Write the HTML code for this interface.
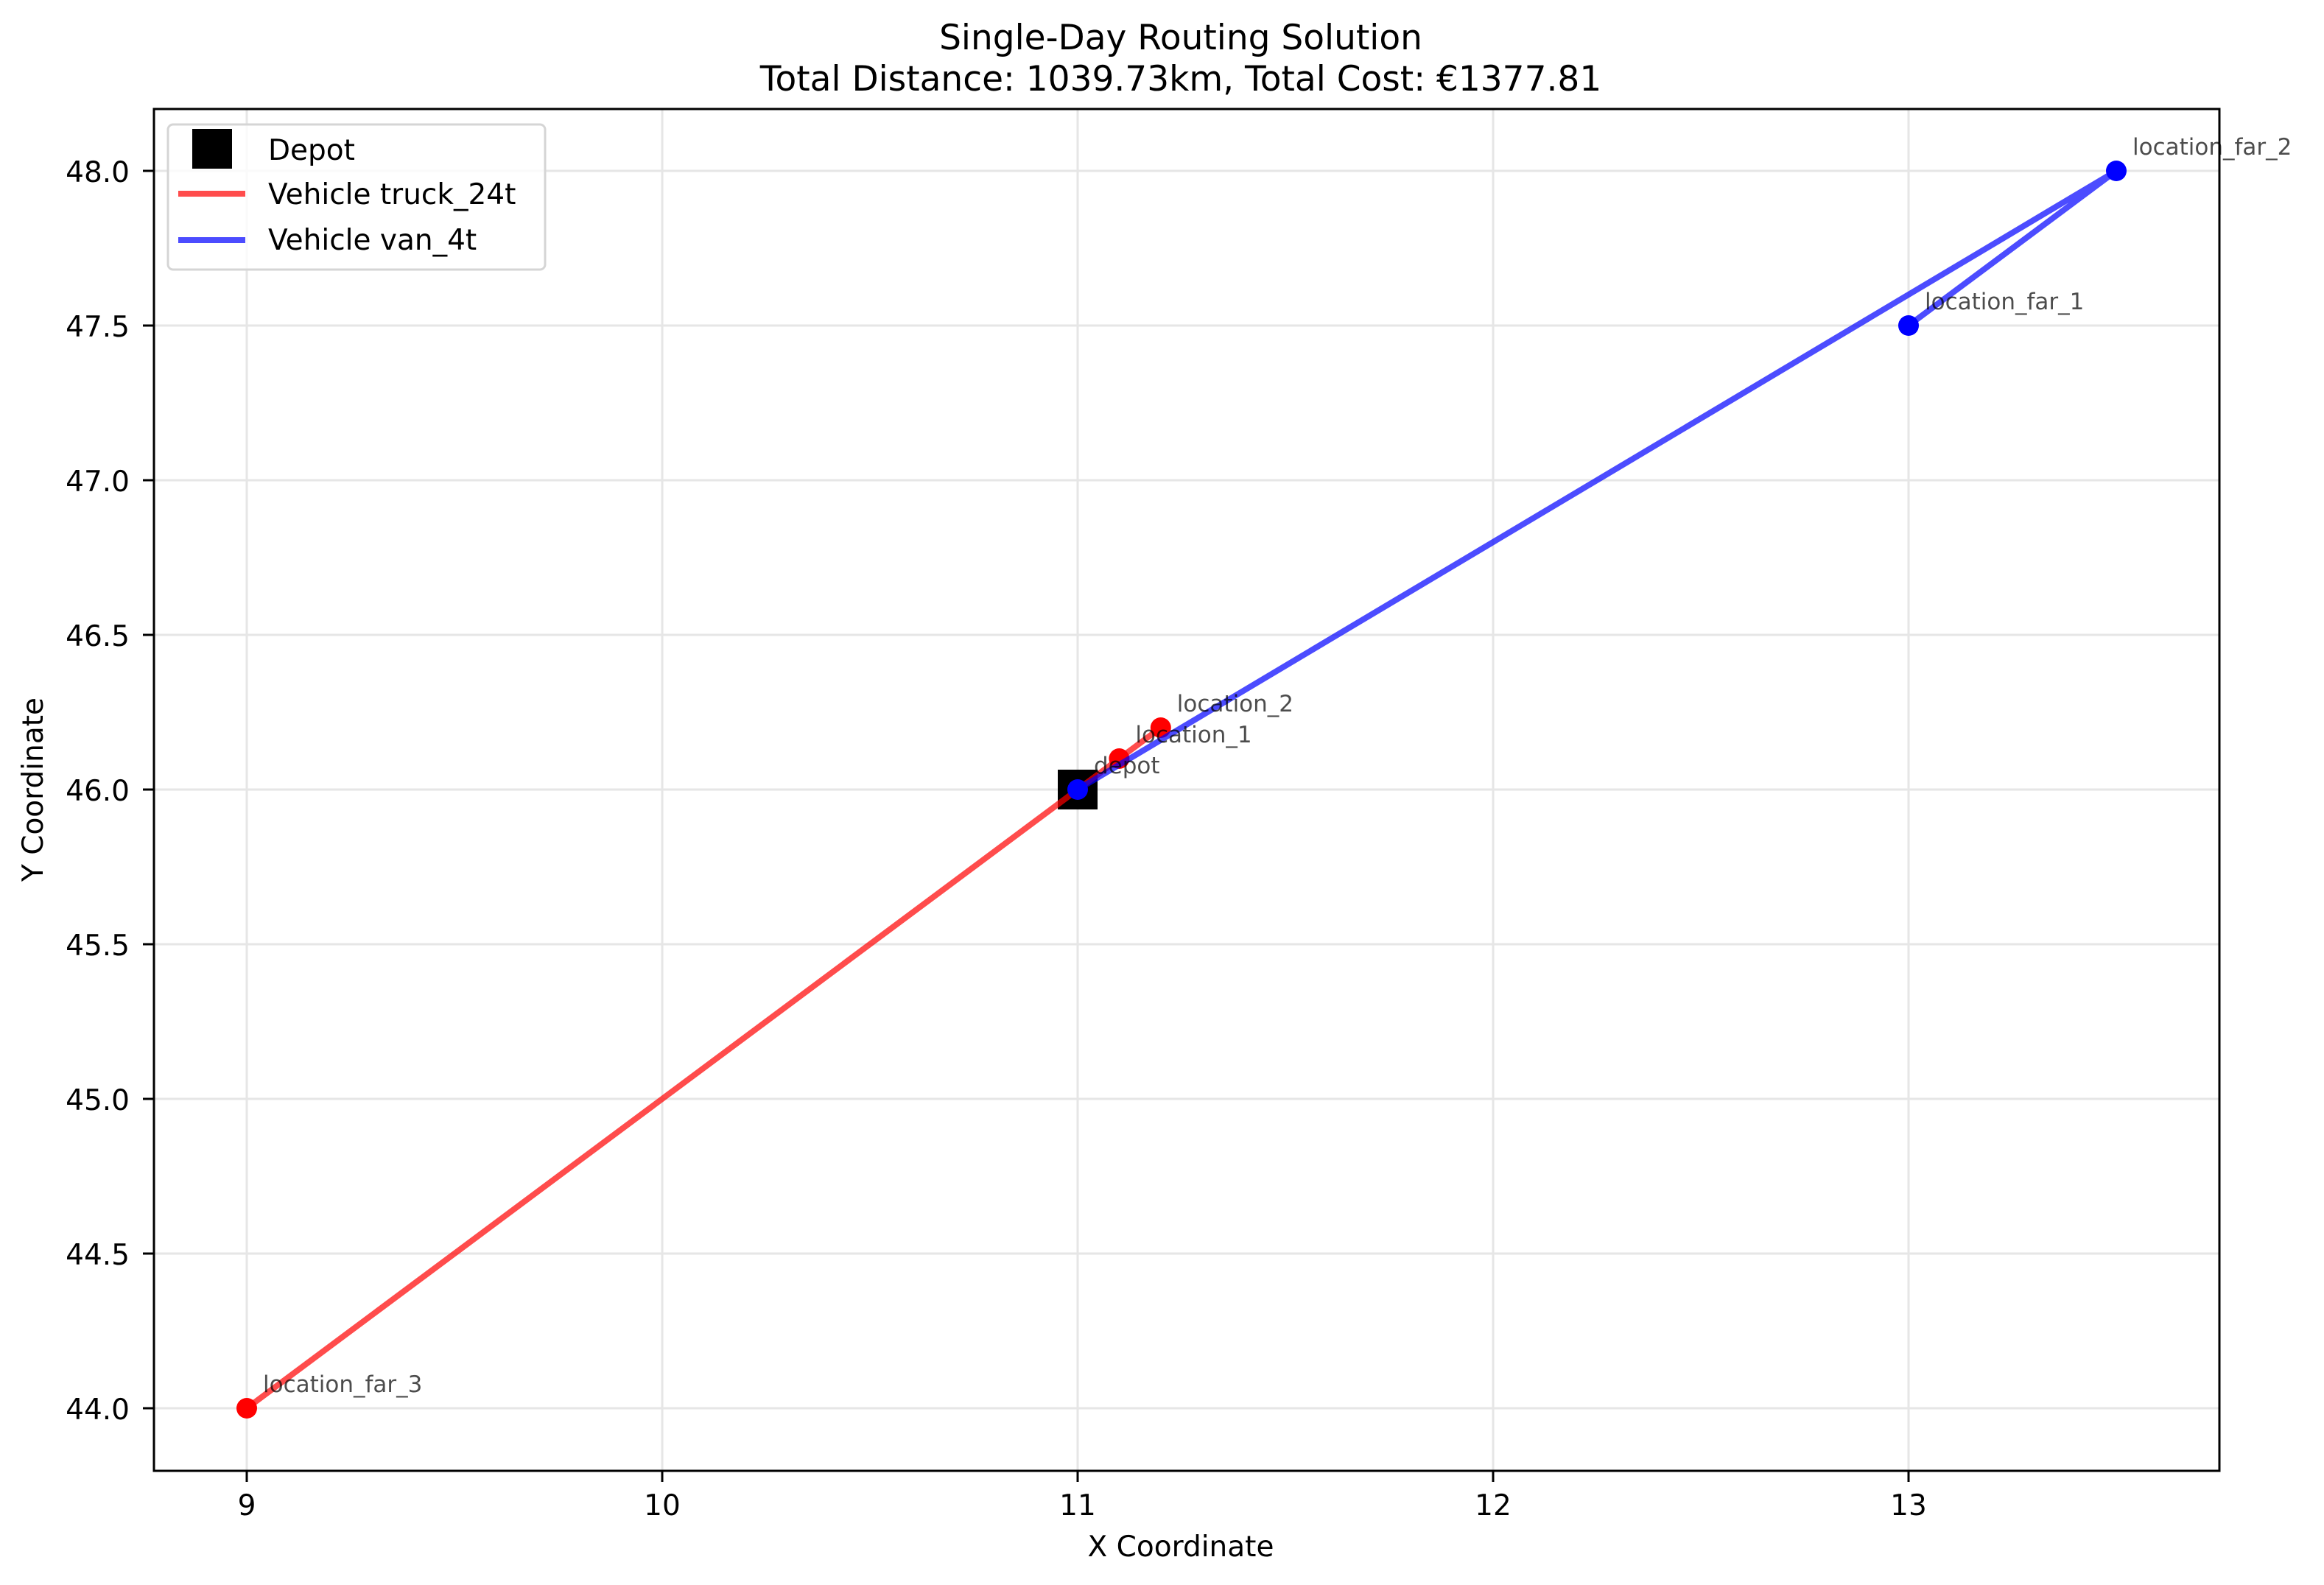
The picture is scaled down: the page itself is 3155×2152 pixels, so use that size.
<!DOCTYPE html>
<html><head><meta charset="utf-8"><style>
html,body{margin:0;padding:0;background:#fff;}
svg{display:block;font-family:"DejaVu Sans","Liberation Sans",sans-serif;}
</style></head><body>
<svg id="chart" width="3155" height="2152" viewBox="0 0 3155 2152" xmlns="http://www.w3.org/2000/svg">
<rect width="3155" height="2152" fill="#fff"/>
<text x="1603" y="67" font-size="47" text-anchor="middle">Single-Day Routing Solution</text>
<text x="1603" y="123" font-size="47" text-anchor="middle">Total Distance: 1039.73km, Total Cost: €1377.81</text>
<g id="grid"></g>
<g id="ticks"></g>
<g id="marks"></g>
<rect x="209" y="148" width="2804" height="1849" fill="none" stroke="#000" stroke-width="3"/>
<text x="1603" y="2113" font-size="39" text-anchor="middle">X Coordinate</text>
<text x="58" y="1072" font-size="39" text-anchor="middle" transform="rotate(-90 58 1072)">Y Coordinate</text>
<g>
<rect x="228" y="169" width="512" height="197" rx="7" fill="#fff" fill-opacity="0.8" stroke="#d5d5d5" stroke-width="3"/>
<rect x="261" y="175" width="54" height="54" fill="#000"/>
<text x="364" y="217" font-size="39">Depot</text>
<line x1="242" y1="263" x2="333" y2="263" stroke="#ff0000" stroke-opacity="0.7" stroke-width="8"/>
<text x="364" y="277" font-size="39">Vehicle truck_24t</text>
<line x1="242" y1="326" x2="333" y2="326" stroke="#0000ff" stroke-opacity="0.7" stroke-width="8"/>
<text x="364" y="339" font-size="39">Vehicle van_4t</text>
</g>
</svg>
<script>
const xTicks = [9, 10, 11, 12, 13];
const yTicks = [44.0, 44.5, 45.0, 45.5, 46.0, 46.5, 47.0, 47.5, 48.0];
const depot = [11, 46];
const truckX = [9, 11, 11.1, 11.2];
const truckY = [44, 46, 46.1, 46.2];
const vanX = [11, 13.5, 13];
const vanY = [46, 48, 47.5];
const pointNames = ['depot', 'location_1', 'location_2', 'location_far_3', 'location_far_1', 'location_far_2'];
const pointX = [11, 11.1, 11.2, 9, 13, 13.5];
const pointY = [46, 46.1, 46.2, 44, 47.5, 48];
const pointColor = ['blue', 'red', 'red', 'red', 'blue', 'blue'];

const NS = 'http://www.w3.org/2000/svg';
function sx(v){ return 335 + (v - 9) * 564; }
function sy(v){ return 232 + (48 - v) * 420; }
function mk(tag, attrs, parent){ const e = document.createElementNS(NS, tag); for (const k in attrs) e.setAttribute(k, attrs[k]); parent.appendChild(e); return e; }
const grid = document.getElementById('grid'), ticks = document.getElementById('ticks'), marks = document.getElementById('marks');
xTicks.forEach(t => {
  const g = mk('line', {x1: sx(t), x2: sx(t), y1: 148, y2: 1997, stroke: '#e6e6e6', 'stroke-width': 3}, grid);
  
  
  const tk = mk('line', {x1: sx(t), x2: sx(t), y1: 1997, y2: 2012, stroke: '#000', 'stroke-width': 3}, ticks);
  
  
  const tx = mk('text', {x: sx(t), y: 2057, 'font-size': 39, 'text-anchor': 'middle'}, ticks);
  tx.textContent = String(t);
  
  
});
yTicks.forEach(t => {
  const g = mk('line', {x1: 209, x2: 3013, y1: sy(t), y2: sy(t), stroke: '#e6e6e6', 'stroke-width': 3}, grid);
  
  
  const tk = mk('line', {x1: 194, x2: 209, y1: sy(t), y2: sy(t), stroke: '#000', 'stroke-width': 3}, ticks);
  
  
  const tx = mk('text', {x: 176, y: sy(t) + 15, 'font-size': 39, 'text-anchor': 'end'}, ticks);
  tx.textContent = t.toFixed(1);
  
  
});
const dep = mk('rect', {x: sx(depot[0]) - 27, y: sy(depot[1]) - 27, width: 54, height: 54, fill: '#000'}, marks);


const tl = mk('polyline', {points: truckX.map((x, i) => sx(x) + ',' + sy(truckY[i])).join(' '), fill: 'none', stroke: '#ff0000', 'stroke-opacity': 0.7, 'stroke-width': 8, 'stroke-linejoin': 'round'}, marks);


pointNames.forEach((n, i) => { if (pointColor[i] === 'red') {
  const c = mk('circle', {cx: sx(pointX[i]), cy: sy(pointY[i]), r: 14, fill: '#ff0000'}, marks);
  
  
}});
const vl = mk('polyline', {points: vanX.map((x, i) => sx(x) + ',' + sy(vanY[i])).join(' '), fill: 'none', stroke: '#0000ff', 'stroke-opacity': 0.7, 'stroke-width': 8, 'stroke-linejoin': 'round'}, marks);


pointNames.forEach((n, i) => { if (pointColor[i] === 'blue') {
  const c = mk('circle', {cx: sx(pointX[i]), cy: sy(pointY[i]), r: 14, fill: '#0000ff'}, marks);
  
  
}});
pointNames.forEach((n, i) => {
  const t = mk('text', {x: sx(pointX[i]) + 22, y: sy(pointY[i]) - 22, 'font-size': 31, fill: '#000', 'fill-opacity': 0.7}, marks);
  t.textContent = n;
  
  
});
</script>
</body></html>
